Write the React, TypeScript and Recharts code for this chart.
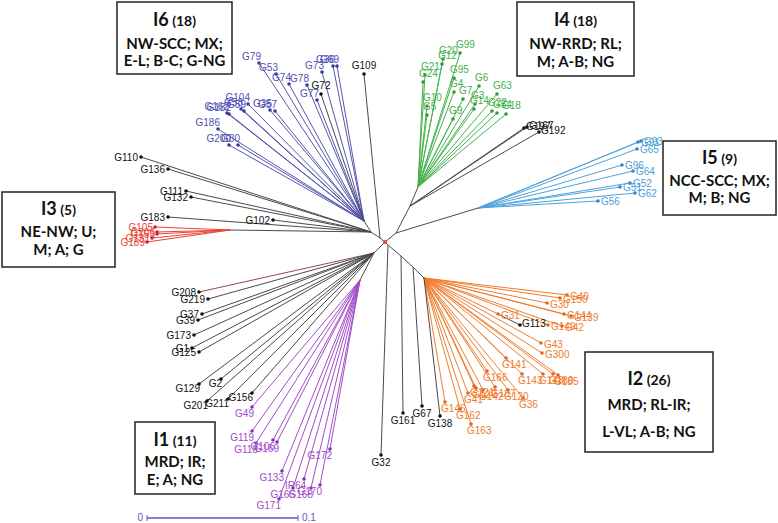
import { ScatterChart, Scatter, XAxis, YAxis, ReferenceLine } from 'recharts'

type Leaf = { name: string; x: number; y: number; parent?: string }

// internal nodes of the unrooted tree
const NODES: Record<string, [number, number]> = {
  root: [385, 242],
  n109: [380, 238],
  left: [371, 232],
  i6: [364, 221],
  i3: [230, 230],
  right: [396, 233],
  up: [410, 206],
  i4: [418, 187],
  i5: [478, 208],
  low: [374, 253],
  i1: [360, 280],
  d1: [388, 245],
  d2: [401, 256],
  d3: [413, 267],
  i2: [424, 278],
  g31: [498, 314],
}

const INTERNAL_EDGES: [string, string][] = [
  ['root', 'n109'], ['n109', 'left'], ['left', 'i6'], ['left', 'i3'],
  ['root', 'right'], ['right', 'up'], ['up', 'i4'], ['right', 'i5'],
  ['root', 'low'], ['low', 'i1'],
  ['root', 'd1'], ['d1', 'd2'], ['d2', 'd3'], ['d3', 'i2'],
]

const I6_LEAVES: Leaf[] = [
  { name: 'G79', x: 259, y: 63 }, { name: 'G53', x: 276, y: 74 }, { name: 'G74', x: 289, y: 84 },
  { name: 'G78', x: 307, y: 85 }, { name: 'G77', x: 317, y: 100 }, { name: 'G73', x: 322, y: 72 },
  { name: 'G36', x: 333, y: 66 }, { name: 'G69', x: 337, y: 66 }, { name: 'G104', x: 248, y: 104 },
  { name: 'G58', x: 241, y: 109 }, { name: 'G59', x: 244, y: 111 }, { name: 'G182', x: 229, y: 114 },
  { name: 'G162', x: 227, y: 113 }, { name: 'G186', x: 218, y: 129 }, { name: 'G35', x: 270, y: 110 },
  { name: 'G57', x: 275, y: 111 }, { name: 'G200', x: 229, y: 145 }, { name: 'G80', x: 238, y: 145 },
]

const I4_LEAVES: Leaf[] = [
  { name: 'G99', x: 460, y: 53 }, { name: 'G20', x: 443, y: 59 }, { name: 'G12', x: 442, y: 64 },
  { name: 'G21', x: 425, y: 75 }, { name: 'G24', x: 423, y: 82 }, { name: 'G95', x: 454, y: 78 },
  { name: 'G4', x: 454, y: 92 }, { name: 'G6', x: 479, y: 86 }, { name: 'G7', x: 463, y: 99 },
  { name: 'G63', x: 497, y: 94 }, { name: 'G3', x: 475, y: 104 }, { name: 'G14', x: 474, y: 109 },
  { name: 'G22', x: 492, y: 111 }, { name: 'G54', x: 497, y: 113 }, { name: 'G18', x: 506, y: 114 },
  { name: 'G10', x: 427, y: 106 }, { name: 'G5', x: 427, y: 115 }, { name: 'G9', x: 453, y: 119 },
]

const I5_LEAVES: Leaf[] = [
  { name: 'G91', x: 638, y: 142 }, { name: 'G93', x: 641, y: 141 }, { name: 'G65', x: 637, y: 149 },
  { name: 'G96', x: 622, y: 165 }, { name: 'G64', x: 633, y: 171 }, { name: 'G52', x: 630, y: 183 },
  { name: 'G51', x: 620, y: 187 }, { name: 'G62', x: 635, y: 193 }, { name: 'G56', x: 598, y: 201 },
]

const I3_LEAVES: Leaf[] = [
  { name: 'G105', x: 155, y: 227 }, { name: 'G206', x: 157, y: 232 }, { name: 'G153', x: 157, y: 234 },
  { name: 'G131', x: 152, y: 238 }, { name: 'G189', x: 147, y: 242 },
]

const I1_LEAVES: Leaf[] = [
  { name: 'G49', x: 252, y: 407 }, { name: 'G119', x: 252, y: 431 }, { name: 'G118', x: 256, y: 443 },
  { name: 'G106', x: 273, y: 440 }, { name: 'G169', x: 277, y: 442 }, { name: 'G133', x: 282, y: 471 },
  { name: 'IR64', x: 304, y: 479 }, { name: 'G165', x: 293, y: 488 }, { name: 'G168', x: 311, y: 488 },
  { name: 'G170', x: 320, y: 485 }, { name: 'G171', x: 279, y: 499 }, { name: 'G172', x: 330, y: 449 },
]

const I2_LEAVES: Leaf[] = [
  { name: 'G40', x: 567, y: 295 }, { name: 'G150', x: 560, y: 298 }, { name: 'G30', x: 547, y: 303 },
  { name: 'G144', x: 564, y: 314 }, { name: 'G139', x: 571, y: 316 }, { name: 'G31', x: 498, y: 314 },
  { name: 'G149', x: 548, y: 325 }, { name: 'G42', x: 562, y: 326 }, { name: 'G43', x: 541, y: 343 },
  { name: 'G300', x: 542, y: 353 }, { name: 'G141', x: 506, y: 358 }, { name: 'G166', x: 487, y: 371 },
  { name: 'G143', x: 522, y: 374 }, { name: 'G148', x: 543, y: 374 }, { name: 'G180', x: 553, y: 374 },
  { name: 'G185', x: 558, y: 375 }, { name: 'G121', x: 474, y: 386 }, { name: 'G127', x: 476, y: 388 },
  { name: 'G41', x: 468, y: 393 }, { name: 'G142', x: 483, y: 390 }, { name: 'G187', x: 495, y: 387 },
  { name: 'G120', x: 508, y: 390 }, { name: 'G36', x: 523, y: 398 }, { name: 'G146', x: 445, y: 402 },
  { name: 'G162', x: 460, y: 409 }, { name: 'G163', x: 471, y: 424 },
]

const BLACK_LEFT: Leaf[] = [
  { name: 'G110', x: 141, y: 157, parent: 'left' }, { name: 'G136', x: 168, y: 169, parent: 'left' },
  { name: 'G111', x: 186, y: 191, parent: 'left' }, { name: 'G132', x: 191, y: 197, parent: 'left' },
  { name: 'G183', x: 168, y: 217, parent: 'left' }, { name: 'G102', x: 273, y: 220, parent: 'left' },
  { name: 'G208', x: 199, y: 292, parent: 'low' }, { name: 'G219', x: 208, y: 299, parent: 'low' },
  { name: 'G37', x: 202, y: 314, parent: 'low' }, { name: 'G39', x: 198, y: 320, parent: 'low' },
  { name: 'G173', x: 194, y: 335, parent: 'low' }, { name: 'G1', x: 192, y: 348, parent: 'low' },
  { name: 'G125', x: 199, y: 352, parent: 'low' }, { name: 'G129', x: 199, y: 384, parent: 'low' },
  { name: 'G2', x: 221, y: 379, parent: 'low' }, { name: 'G201', x: 207, y: 401, parent: 'low' },
  { name: 'G211', x: 228, y: 399, parent: 'low' }, { name: 'G156', x: 252, y: 393, parent: 'low' },
]

const BLACK_RIGHT: Leaf[] = [
  { name: 'G197', x: 524, y: 128, parent: 'up' }, { name: 'G167', x: 527, y: 127, parent: 'up' },
  { name: 'G192', x: 539, y: 132, parent: 'up' }, { name: 'G113', x: 520, y: 325, parent: 'g31' },
]

const BLACK_TOP: Leaf[] = [
  { name: 'G109', x: 364, y: 74, parent: 'n109' }, { name: 'G72', x: 321, y: 94, parent: 'i6' },
]

const BLACK_BOTTOM: Leaf[] = [
  { name: 'G32', x: 381, y: 455, parent: 'd1' }, { name: 'G161', x: 403, y: 413, parent: 'd2' },
  { name: 'G67', x: 422, y: 406, parent: 'd3' }, { name: 'G138', x: 440, y: 416, parent: 'i2' },
]

const GROUP_TITLES = ['I6', 'I4', 'I5', 'I3', 'I2', 'I1']
const GROUP_COUNTS = ['(18)', '(18)', '(9)', '(5)', '(26)', '(11)']
const GROUP_LINES = [
  ['NW-SCC; MX;', 'E-L; B-C; G-NG'],
  ['NW-RRD; RL;', 'M; A-B; NG'],
  ['NCC-SCC; MX;', 'M; B; NG'],
  ['NE-NW; U;', 'M; A; G'],
  ['MRD; RL-IR;', 'L-VL; A-B; NG'],
  ['MRD; IR;', 'E; A; NG'],
]
const SCALE_TICKS = ['0', '0.1']

type Place = { dx: number; dy: number; anchor: 'start' | 'middle' | 'end' }
type Group = {
  key: string
  leaves: Leaf[]
  hub: string
  line: string
  dot: string
  text: string
  place: (l: Leaf) => Place
}

const GROUPS: Group[] = [
  { key: 'i6', leaves: I6_LEAVES, hub: 'i6', line: '#5656ad', dot: '#3a3a9c', text: '#4f4fb5', place: () => ({ dx: 2, dy: -3, anchor: 'end' }) },
  { key: 'i4', leaves: I4_LEAVES, hub: 'i4', line: '#45b24f', dot: '#2f9a3a', text: '#44b04a', place: () => ({ dx: -4, dy: -5, anchor: 'start' }) },
  { key: 'i5', leaves: I5_LEAVES, hub: 'i5', line: '#4da2db', dot: '#2f86c4', text: '#4c9fd8', place: () => ({ dx: 3, dy: 4, anchor: 'start' }) },
  { key: 'i3', leaves: I3_LEAVES, hub: 'i3', line: '#e8443a', dot: '#c8282a', text: '#e8443a', place: () => ({ dx: -2, dy: 4, anchor: 'end' }) },
  { key: 'i1', leaves: I1_LEAVES, hub: 'i1', line: '#a24cc9', dot: '#8c2eb8', text: '#a24cc9', place: () => ({ dx: 2, dy: 10, anchor: 'end' }) },
  {
    key: 'i2', leaves: I2_LEAVES, hub: 'i2', line: '#f07d2e', dot: '#e0641a', text: '#f07b2c',
    place: (l) => (l.y >= 355 ? { dx: -4, dy: 10, anchor: 'start' } : { dx: 3, dy: 5, anchor: 'start' }),
  },
  {
    key: 'bl', leaves: BLACK_LEFT, hub: 'left', line: '#4a4a4a', dot: '#111', text: '#111',
    place: (l) => (l.y > 375 ? { dx: 1, dy: 8, anchor: 'end' } : { dx: -3, dy: 4, anchor: 'end' }),
  },
  { key: 'br', leaves: BLACK_RIGHT, hub: 'up', line: '#4a4a4a', dot: '#111', text: '#111', place: () => ({ dx: 2, dy: 2, anchor: 'start' }) },
  { key: 'bt', leaves: BLACK_TOP, hub: 'n109', line: '#4a4a4a', dot: '#111', text: '#111', place: () => ({ dx: 0, dy: -5, anchor: 'middle' }) },
  { key: 'bb', leaves: BLACK_BOTTOM, hub: 'd1', line: '#4a4a4a', dot: '#111', text: '#111', place: () => ({ dx: 0, dy: 11, anchor: 'middle' }) },
]

const REDDISH = new Set(['G208'])

const BOX_LAYOUT = [
  { left: 117, top: 2, w: 115, h: 72, base: [24, 47, 64] },
  { left: 517, top: 2, w: 117, h: 74, base: [24, 47, 65] },
  { left: 663, top: 141, w: 113, h: 74, base: [23, 45, 62] },
  { left: 2, top: 192, w: 113, h: 75, base: [23, 45, 63] },
  { left: 585, top: 352, w: 128, h: 100, base: [33, 58, 85] },
  { left: 135, top: 422, w: 80, h: 72, base: [24, 45, 63] },
]

const LABEL_FONT = '"Liberation Sans", Arial, sans-serif'
const BOX_FONT = 'Lato, "Open Sans", sans-serif'

function seg(a: [number, number], b: [number, number]) {
  return [{ x: a[0], y: a[1] }, { x: b[0], y: b[1] }]
}

export default function App() {
  const W = 778
  const H = 523

  const leafEdges = GROUPS.flatMap((g) =>
    g.leaves.map((l) => ({
      id: `${g.key}-${l.name}-${l.x}`,
      from: NODES[l.parent ?? g.hub],
      to: [l.x, l.y] as [number, number],
      color: REDDISH.has(l.name) ? '#9a4a44' : g.line,
    })),
  )

  return (
    <div style={{ position: 'absolute', left: 0, top: 0, width: W, height: H, background: '#fff' }}>
      <ScatterChart width={W} height={H} margin={{ top: 0, right: 0, bottom: 0, left: 0 }}>
        <XAxis type="number" dataKey="x" domain={[0, W]} hide />
        <YAxis type="number" dataKey="y" domain={[0, H]} reversed hide />
        {INTERNAL_EDGES.map(([a, b]) => (
          <ReferenceLine key={a + b} segment={seg(NODES[a], NODES[b])} stroke="#4a4a4a" strokeWidth={1} ifOverflow="visible" />
        ))}
        {leafEdges.map((e) => (
          <ReferenceLine key={e.id} segment={seg(e.from, e.to)} stroke={e.color} strokeWidth={1} ifOverflow="visible" />
        ))}
        <ReferenceLine segment={[{ x: 147, y: 518 }, { x: 298, y: 518 }]} stroke="#5a5ab8" strokeWidth={1.5} ifOverflow="visible" />
        <ReferenceLine segment={[{ x: 147, y: 515 }, { x: 147, y: 521 }]} stroke="#5a5ab8" strokeWidth={1} ifOverflow="visible" />
        <ReferenceLine segment={[{ x: 298, y: 515 }, { x: 298, y: 521 }]} stroke="#5a5ab8" strokeWidth={1} ifOverflow="visible" />
        {GROUPS.map((g) => (
          <Scatter
            key={g.key}
            data={g.leaves}
            isAnimationActive={false}
            shape={(p: any) => {
              const l = p.payload as Leaf
              const pl = g.place(l)
              return (
                <g>
                  <circle cx={p.cx} cy={p.cy} r={1.8} fill={g.dot} />
                  <text
                    x={p.cx + pl.dx}
                    y={p.cy + pl.dy}
                    textAnchor={pl.anchor}
                    fontSize={10}
                    fontFamily={LABEL_FONT}
                    fill={g.text}
                  >
                    {l.name}
                  </text>
                </g>
              )
            }}
          />
        ))}
        <Scatter
          data={[{ x: NODES.root[0], y: NODES.root[1] }]}
          isAnimationActive={false}
          shape={(p: any) => <circle cx={p.cx} cy={p.cy} r={2} fill="#e8443a" />}
        />
      </ScatterChart>
      <svg width={W} height={H} style={{ position: 'absolute', left: 0, top: 0, pointerEvents: 'none' }}>
        {BOX_LAYOUT.map((b, i) => {
          const cx = b.left + b.w / 2
          return (
            <g key={GROUP_TITLES[i]} fontFamily={BOX_FONT} fontWeight={700} fill="#111">
              <rect x={b.left} y={b.top} width={b.w} height={b.h} fill="#fff" stroke="#222" strokeWidth={1.5} />
              <text x={cx} y={b.top + b.base[0]} textAnchor="middle">
                <tspan fontSize={18}>{GROUP_TITLES[i]}</tspan>
                <tspan fontSize={14}> {GROUP_COUNTS[i]}</tspan>
              </text>
              <text x={cx} y={b.top + b.base[1]} textAnchor="middle" fontSize={15}>{GROUP_LINES[i][0]}</text>
              <text x={cx} y={b.top + b.base[2]} textAnchor="middle" fontSize={15}>{GROUP_LINES[i][1]}</text>
            </g>
          )
        })}
        <text x={143} y={521} textAnchor="end" fontSize={10} fontFamily={LABEL_FONT} fill="#5a5ab8">{SCALE_TICKS[0]}</text>
        <text x={302} y={521} fontSize={10} fontFamily={LABEL_FONT} fill="#5a5ab8">{SCALE_TICKS[1]}</text>
      </svg>
    </div>
  )
}
